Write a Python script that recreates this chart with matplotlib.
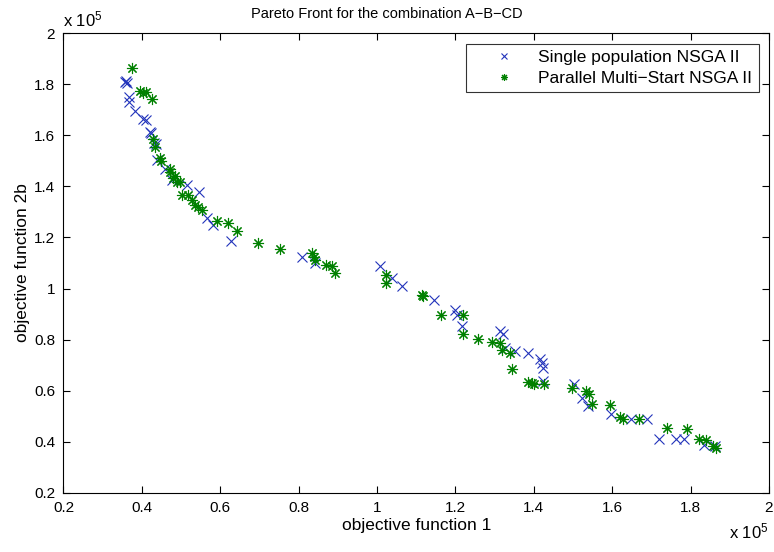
import matplotlib
matplotlib.use("Agg")
import matplotlib.pyplot as plt
import numpy as np

plt.rcParams["font.family"] = ["Liberation Sans", "DejaVu Sans"]
plt.rcParams["mathtext.fontset"] = "custom"
plt.rcParams["mathtext.rm"] = "Liberation Sans"
plt.rcParams["mathtext.it"] = "Liberation Sans"

# values in units of 1e5
single_f1 = [0.357, 0.363, 0.360, 0.366, 0.368, 0.383, 0.404, 0.410, 0.421, 0.423,
             0.430, 0.435, 0.438, 0.459, 0.476, 0.515, 0.545, 0.566, 0.582, 0.627,
             0.809, 0.842, 1.008, 1.037, 1.063, 1.145, 1.199, 1.205, 1.216, 1.314,
             1.321, 1.327, 1.352, 1.386, 1.416, 1.420, 1.423, 1.424, 1.503, 1.522,
             1.539, 1.596, 1.648, 1.688, 1.719, 1.763, 1.784, 1.834, 1.862]
single_f2b = [1.810, 1.803, 1.812, 1.751, 1.731, 1.696, 1.662, 1.660, 1.614, 1.610,
              1.570, 1.565, 1.503, 1.470, 1.425, 1.405, 1.377, 1.275, 1.249, 1.187,
              1.125, 1.099, 1.088, 1.040, 1.010, 0.955, 0.916, 0.897, 0.854, 0.835,
              0.822, 0.766, 0.754, 0.749, 0.725, 0.710, 0.690, 0.640, 0.626, 0.571,
              0.541, 0.508, 0.490, 0.490, 0.412, 0.412, 0.410, 0.388, 0.382]

multi_f1 = [0.374, 0.395, 0.404, 0.410, 0.425, 0.428, 0.434, 0.446, 0.450, 0.472,
            0.472, 0.480, 0.485, 0.489, 0.498, 0.502, 0.519, 0.527, 0.536, 0.544,
            0.553, 0.591, 0.621, 0.642, 0.697, 0.753, 0.833, 0.838, 0.842, 0.870,
            0.884, 0.893, 1.023, 1.023, 1.114, 1.118, 1.163, 1.219, 1.219, 1.258,
            1.293, 1.314, 1.318, 1.339, 1.345, 1.386, 1.395, 1.400, 1.426, 1.497,
            1.533, 1.542, 1.548, 1.594, 1.620, 1.627, 1.669, 1.739, 1.790, 1.822,
            1.839, 1.858, 1.865]
multi_f2b = [1.862, 1.774, 1.767, 1.770, 1.744, 1.584, 1.555, 1.512, 1.500, 1.457,
             1.470, 1.431, 1.440, 1.418, 1.418, 1.366, 1.366, 1.347, 1.327, 1.320,
             1.307, 1.266, 1.255, 1.225, 1.177, 1.154, 1.138, 1.125, 1.112, 1.092,
             1.090, 1.062, 1.053, 1.023, 0.975, 0.972, 0.897, 0.897, 0.821, 0.802,
             0.792, 0.786, 0.760, 0.747, 0.684, 0.636, 0.630, 0.628, 0.627, 0.610,
             0.600, 0.588, 0.548, 0.545, 0.497, 0.490, 0.490, 0.456, 0.451, 0.410,
             0.408, 0.384, 0.375]

ticks = [0.2, 0.4, 0.6, 0.8, 1.0, 1.2, 1.4, 1.6, 1.8, 2.0]
tick_labels = ["0.2", "0.4", "0.6", "0.8", "1", "1.2", "1.4", "1.6", "1.8", "2"]

fig = plt.figure(figsize=(7.74, 5.52), dpi=100)
ax = fig.add_axes([0.082, 0.107, 0.9115, 0.833])

ax.plot(single_f1, single_f2b, linestyle="none", marker="x", color="#2233bb",
        markersize=7, markeredgewidth=0.8, label="Single population NSGA II")
ax.plot(multi_f1, multi_f2b, linestyle="none", marker=(8, 2, 0), color="#008000",
        markersize=8, markeredgewidth=0.8, label="Parallel Multi\u2212Start NSGA II")

ax.set_xlim(0.2, 2.0)
ax.set_ylim(0.2, 2.0)
ax.set_xticks(ticks)
ax.set_xticklabels(tick_labels)
ax.set_yticks(ticks)
ax.set_yticklabels(tick_labels)
ax.tick_params(direction="in", top=True, right=True, length=5, width=0.8,
               labelsize=11, pad=6)
for s in ax.spines.values():
  s.set_linewidth(0.8)

ax.set_xlabel("objective function 1", fontsize=12.5, labelpad=2)
ax.set_ylabel("objective function 2b", fontsize=12.5, labelpad=3)
ax.set_title("Pareto Front for the combination A\u2212B\u2212CD", fontsize=10.5,
             pad=11, x=0.459)

ax.text(0.0, 1.008, r"x 10$^5$", transform=ax.transAxes, ha="left", va="bottom",
        fontsize=12)
ax.text(1.0, -0.062, r"x 10$^5$", transform=ax.transAxes, ha="right", va="top",
        fontsize=12)

leg = ax.legend(loc="upper right", fontsize=12.5, frameon=True, fancybox=False,
                edgecolor="black", borderaxespad=0.6, handletextpad=0.2,
                borderpad=0.35, labelspacing=0.35, handlelength=3.6)
leg.get_frame().set_linewidth(0.8)
for h in leg.legend_handles:
  h.set_markersize(5)

fig.savefig("out.png", dpi=100)
